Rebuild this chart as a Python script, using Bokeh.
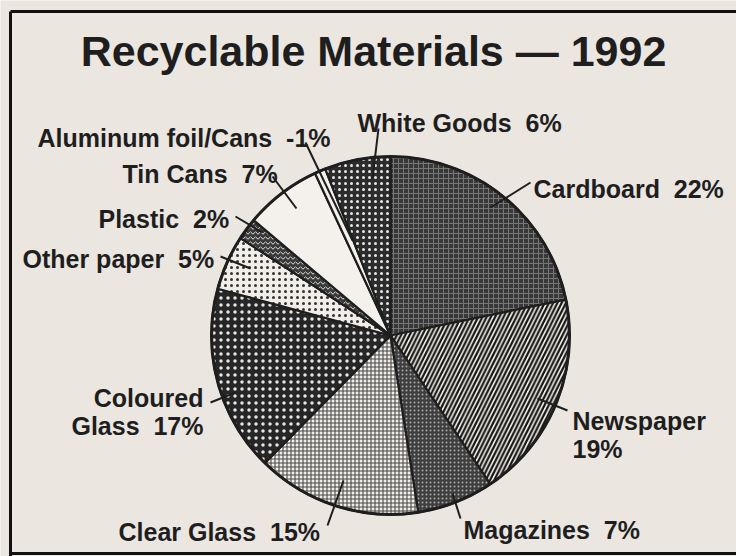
import numpy as np
from bokeh.plotting import figure
from bokeh.models import Range1d, ColumnDataSource
from bokeh.core.properties import value
from bokeh.embed import file_html
from bokeh.resources import INLINE

# ---- data (clockwise from 12 o'clock) ----
categories = ["Cardboard", "Newspaper", "Magazines", "Clear Glass", "Coloured Glass",
              "Other paper", "Plastic", "Tin Cans", "Aluminum foil/Cans", "White Goods"]
percents = [22, 19, 7, 15, 17, 5, 2, 7, 1, 6]
label_texts = ["Cardboard  22%", "Newspaper\n19%", "Magazines  7%", "Clear Glass  15%",
               "Coloured\nGlass  17%", "Other paper  5%", "Plastic  2%", "Tin Cans  7%",
               "Aluminum foil/Cans  -1%", "White Goods  6%"]
title_text = "Recyclable Materials \u2014 1992"

# ---- styles ----
fills = ["#383838", "#f3efea", "#3e3e3e", "#f1ede8", "#262626",
         "#f1ede8", "#3a3a3a", "#f4f1ec", "#f4f1ec", "#2c2c2c"]
hatches = ["+", "/", ".", "+", ".", ".", "v", " ", " ", "."]
hatch_cols = ["#777777", "#141414", "#a8a8a8", "#4a4a4a", "#e6e6e6",
              "#333333", "#dddddd", "#000000", "#000000", "#e6e6e6"]
hatch_scales = [5, 8.5, 4, 4, 7, 6, 5, 10, 10, 6]
hatch_weights = [1, 2.2, 1, 1.1, 1, 1, 1, 1, 1, 1]

# ---- layout (page pixel coordinates, y downwards) ----
W, H = 736, 556
cx, cy, R = 390, 335, 179
label_x = [533, 572, 463, 118, 203, 22, 98, 122, 37, 357]
label_y = [188, 420, 529, 531, 397, 258, 218, 173, 137, 122]
label_align = ["left", "left", "left", "left", "right", "left", "left", "left", "left", "left"]
lead_x0 = [530, 567, 460, 327, 210, 220, 235, 272, 305, 378]
lead_y0 = [182, 410, 518, 525, 402, 256, 216, 176, 142, 128]
lead_x1 = [490, 537, 452, 343, 235, 250, 262, 296, 352, 372]
lead_y1 = [207, 398, 493, 480, 392, 268, 232, 208, 240, 178]

BG = "#ebe6e0"
INK = "#1e1e1e"
FONT = value("Liberation Sans")

p = figure(width=W, height=H, output_backend="svg", toolbar_location=None,
           x_range=Range1d(0, W), y_range=Range1d(-H, 0),
           min_border=0, background_fill_color=BG, border_fill_color=BG)
p.axis.visible = False
p.grid.visible = False
p.outline_line_color = None

# pie wedges
vals = np.array(percents, dtype=float)
frac = vals / vals.sum()
cum = np.concatenate([[0], np.cumsum(frac)])
a_start = np.radians(90 - 360 * cum[1:])
a_end = np.radians(90 - 360 * cum[:-1])
src = ColumnDataSource(dict(start=a_start, end=a_end, fill=fills, hatch=hatches,
                            hcol=hatch_cols, hscale=hatch_scales, hw=hatch_weights))
p.wedge(x=cx, y=-cy, radius=R, start_angle="start", end_angle="end", source=src,
        fill_color="fill", hatch_pattern="hatch", hatch_color="hcol",
        hatch_scale="hscale", hatch_weight="hw",
        line_color=INK, line_width=2.2)
p.circle(x=cx, y=-cy, radius=R, fill_color=None, line_color=INK, line_width=3)

# leader lines
p.segment(x0=lead_x0, y0=[-v for v in lead_y0], x1=lead_x1, y1=[-v for v in lead_y1],
          line_color=INK, line_width=2)

# labels (multi-line texts split into lines; double spaces kept as no-break spaces)
for t, x, y, al in zip(label_texts, label_x, label_y, label_align):
    lines = t.replace("  ", "\u00a0\u00a0").split("\n")
    for k, ln in enumerate(lines):
        p.text(x=[x], y=[-(y + 28 * k)], text=[ln], text_font=FONT, text_font_style="bold",
               text_font_size="25px", text_color=INK, text_align=al,
               text_baseline="alphabetic")

# title
p.text(x=[373], y=[-50], text=[title_text], text_font=FONT, text_font_style="bold",
       text_font_size="43px", text_color=INK, text_align="center", text_baseline="alphabetic")

# frame
p.segment(x0=[10, 10, 10], y0=[-11, -11, -553], x1=[10, 736, 736], y1=[-556, -11, -553],
          line_color="#111111", line_width=3)

open("out.html", "w").write(file_html(p, INLINE))
